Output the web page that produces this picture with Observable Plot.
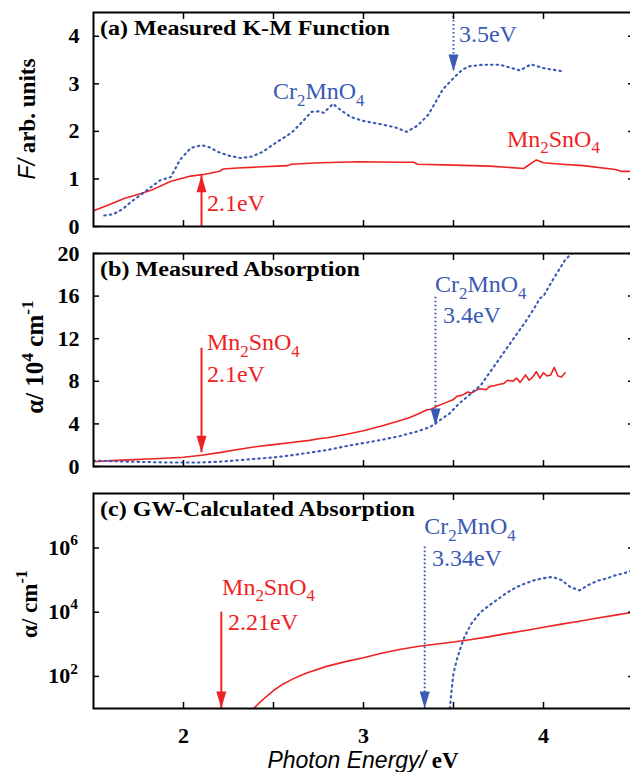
<!DOCTYPE html>
<html><head><meta charset="utf-8">
<script src="https://cdn.jsdelivr.net/npm/d3@7"></script>
<script src="https://cdn.jsdelivr.net/npm/@observablehq/plot@0.6"></script>
<style>
html,body{margin:0;padding:0;background:#fff;overflow:hidden;}
#chart svg{display:block;}
</style></head><body><div id="chart"></div>
<script>
const RED = "#ee2222", BLUE = "#3a5ab4";
const SERIF = "'Liberation Serif','Times New Roman',serif";
const SANS = "'Liberation Sans',Arial,sans-serif";

// ---- (a) Measured K-M function ----
const kmMnE = [1.5,1.6,1.67,1.75,1.82,1.93,2.04,2.12,2.2,2.22,2.3,2.41,2.58,2.6,2.76,2.98,3.2,3.28,3.3,3.5,3.7,3.89,3.96,4.0,4.1,4.22,4.4,4.43,4.5];
const kmMnF = [0.33,0.48,0.59,0.68,0.76,0.95,1.06,1.10,1.16,1.21,1.23,1.25,1.28,1.31,1.34,1.36,1.35,1.35,1.31,1.29,1.27,1.22,1.40,1.34,1.31,1.28,1.20,1.16,1.16];
const kmCrE = [1.56,1.61,1.66,1.7,1.76,1.82,1.87,1.93,1.98,2.04,2.1,2.15,2.19,2.25,2.32,2.38,2.44,2.52,2.6,2.66,2.71,2.75,2.78,2.83,2.88,2.93,3.0,3.11,3.18,3.24,3.3,3.36,3.44,3.5,3.55,3.59,3.66,3.76,3.87,3.93,4.0,4.11];
const kmCrF = [0.23,0.26,0.36,0.49,0.66,0.83,0.97,1.04,1.40,1.65,1.71,1.66,1.57,1.49,1.44,1.47,1.57,1.78,1.97,2.2,2.41,2.42,2.39,2.58,2.43,2.30,2.22,2.14,2.08,1.99,2.12,2.35,2.88,3.12,3.30,3.37,3.40,3.40,3.28,3.41,3.33,3.26];

// ---- (b) Measured absorption (10^4 cm^-1) ----
const abMnE = [1.5,1.6,1.7,1.8,1.9,2.0,2.1,2.2,2.3,2.4,2.5,2.6,2.7,2.75,2.8,2.9,3.0,3.1,3.2,3.25,3.3,3.35,3.38,3.4,3.45,3.5,3.52,3.55,3.58,3.6,3.63,3.65,3.68,3.7,3.73,3.75,3.78,3.8,3.83,3.85,3.87,3.9,3.92,3.94,3.96,3.98,4.0,4.02,4.04,4.06,4.08,4.1,4.12];
const abMnA = [0.45,0.55,0.62,0.7,0.78,0.87,1.05,1.3,1.6,1.85,2.05,2.25,2.45,2.6,2.7,3.0,3.35,3.8,4.3,4.55,4.9,5.3,5.4,5.6,5.95,6.3,6.6,6.7,7.0,6.9,7.2,7.3,7.2,7.5,7.6,7.7,7.8,8.1,8.0,8.3,7.9,8.6,8.1,8.4,8.9,8.3,8.8,8.5,8.6,9.3,8.5,8.4,8.8];
const abCrE = [1.5,1.6,1.7,1.8,1.9,2.0,2.1,2.2,2.3,2.4,2.5,2.6,2.7,2.8,2.9,3.0,3.1,3.2,3.3,3.37,3.42,3.48,3.53,3.58,3.62,3.65,3.7,3.75,3.8,3.85,3.9,3.95,3.98,4.0,4.04,4.08,4.12,4.15,4.2];
const abCrA = [0.55,0.5,0.45,0.42,0.38,0.38,0.38,0.45,0.58,0.72,0.85,1.05,1.3,1.55,1.9,2.2,2.5,2.85,3.3,3.7,4.3,5.0,5.9,6.6,7.2,7.6,8.8,10.0,11.2,12.4,13.6,14.9,15.8,16.0,17.2,18.3,19.4,19.9,20.5];

// ---- (c) GW-calculated absorption, log10(alpha / cm^-1) ----
const gwMnE = [2.39,2.42,2.45,2.5,2.55,2.6,2.65,2.7,2.8,2.9,3.0,3.1,3.2,3.3,3.4,3.5,3.6,3.7,3.8,3.9,4.0,4.1,4.2,4.3,4.4,4.5];
const gwMnLog = [1.0,1.17,1.32,1.56,1.75,1.9,2.03,2.14,2.32,2.46,2.58,2.72,2.84,2.93,3.0,3.07,3.15,3.24,3.34,3.43,3.53,3.63,3.72,3.82,3.91,4.0];
const gwCrE = [3.48,3.49,3.5,3.52,3.54,3.56,3.6,3.65,3.7,3.75,3.8,3.85,3.9,3.95,4.0,4.05,4.1,4.15,4.2,4.25,4.3,4.35,4.4,4.45,4.5];
const gwCrLog = [1.0,1.6,2.1,2.55,2.9,3.22,3.65,4.0,4.22,4.42,4.62,4.78,4.9,5.0,5.06,5.1,5.0,4.78,4.68,4.85,4.98,5.05,5.15,5.22,5.32];

// tick values
const xTicks = [2,2.5,3,3.5,4];
const xTickLabels = [2,3,4];
const yTicksA = [0,1,2,3,4];
const yTicksB = [0,4,8,12,16,20];
const yTicksC = [1e2,1e4,1e6];
const yTickLabelsC = ["10^2","10^4","10^6"];

const zip = (e, v, f = d => d) => e.map((x, i) => ({e: x, v: f(v[i])}));

function richText(sel, x, y, segs, o) {
  const size = o.size;
  const t = sel.append("text").attr("x", x).attr("y", y)
    .attr("fill", o.fill || "black").attr("font-family", o.family || SERIF)
    .attr("font-size", size).attr("font-weight", o.weight || "normal")
    .attr("text-anchor", o.anchor || "start");
  if (o.rotate) t.attr("transform", `rotate(${o.rotate},${x},${y})`);
  if (o.textLength) t.attr("textLength", o.textLength).attr("lengthAdjust", "spacingAndGlyphs");
  if (typeof segs === "string") segs = [[segs, {}]];
  let shift = 0;
  const re = /([_^])(\{[^}]*\}|.)/g;
  for (const [str, st] of segs) {
    const push = (txt, kind) => {
      const ts = t.append("tspan").text(txt);
      const target = kind === "_" ? size * 0.28 : kind === "^" ? -size * 0.42 : 0;
      if (target !== shift) { ts.attr("dy", target - shift); shift = target; }
      if (kind) ts.attr("font-size", size * 0.7);
      if (st.family) ts.attr("font-family", st.family);
      if (st.style) ts.attr("font-style", st.style);
      if (st.weight) ts.attr("font-weight", st.weight);
    };
    let last = 0, m;
    re.lastIndex = 0;
    while ((m = re.exec(str))) {
      if (m.index > last) push(str.slice(last, m.index), null);
      push(m[2].replace(/[{}]/g, ""), m[1]);
      last = re.lastIndex;
    }
    if (last < str.length) push(str.slice(last), null);
  }
  return t;
}

function tickAxes(yTicks) {
  const common = {tickFormat: () => "", strokeWidth: 1.5, label: null};
  return [
    Plot.axisY({...common, ticks: yTicks, anchor: "left", tickSize: -6}),
    Plot.axisY({...common, ticks: yTicks, anchor: "right", tickSize: -6}),
    Plot.axisX({...common, ticks: xTicks, anchor: "bottom", tickSize: -6}),
    Plot.axisX({...common, ticks: xTicks, anchor: "top", tickSize: -6})
  ];
}

function arrowMarks(arrows) {
  const solid = arrows.filter(d => !d.dotted), dotted = arrows.filter(d => d.dotted);
  return [
    Plot.ruleX(solid, {x: "x", y1: "from", y2: "to", stroke: "color", strokeWidth: 2}),
    Plot.ruleX(dotted, {x: "x", y1: "from", y2: "to", stroke: "color", strokeWidth: 2, strokeDasharray: "1.6,2.4"}),
    Plot.vector(arrows, {x: "x", y: "to", length: 17, r: 5, shape: "spike", anchor: "end",
      rotate: d => (d.to > d.from ? 0 : 180), fill: "color", stroke: "none"})
  ];
}

function panel({height, marginTop, marginBottom, y, marks}) {
  return Plot.plot({
    width: 630, height, marginLeft: 93, marginRight: -3, marginTop, marginBottom,
    x: {domain: [1.5, 4.5]}, y,
    color: {type: "identity"},
    style: {fontFamily: SERIF, fontSize: "22px", color: "black", background: "white", overflow: "visible"},
    marks
  });
}

function seriesMarks(mn, cr) {
  return [
    Plot.line(mn, {x: "e", y: "v", stroke: RED, strokeWidth: 1.6, clip: true}),
    Plot.line(cr, {x: "e", y: "v", stroke: BLUE, strokeWidth: 2.1, strokeDasharray: "1.5,4", clip: true})
  ];
}

const yLabelAxis = ticks => Plot.axisY({ticks, anchor: "left", tickSize: 0, tickPadding: 14,
  tickFormat: d => String(d), fontSize: 22, fontWeight: "bold", label: null});

// annotations (data coordinates)
const arrowsA = [{x: 2.1, from: 0, to: 1.08, color: RED, dotted: false}, {x: 3.5, from: 4.5, to: 3.26, color: BLUE, dotted: true}];
const arrowsB = [{x: 2.1, from: 11.1, to: 1.3, color: RED, dotted: false}, {x: 3.4, from: 15.9, to: 3.85, color: BLUE, dotted: true}];
const arrowsC = [{x: 2.21, from: 1e4, to: 10, color: RED, dotted: false}, {x: 3.34, from: 1.07e6, to: 10, color: BLUE, dotted: true}];
const labelsA = [{x: 2.5, y: 2.67, t: "Cr_2MnO_4", c: BLUE}, {x: 3.533, y: 3.87, t: "3.5eV", c: BLUE},
  {x: 3.8, y: 1.67, t: "Mn_2SnO_4", c: RED}, {x: 2.133, y: 0.32, t: "2.1eV", c: RED}];
const labelsB = [{x: 2.133, y: 10.9, t: "Mn_2SnO_4", c: RED}, {x: 2.133, y: 7.9, t: "2.1eV", c: RED},
  {x: 3.4, y: 16.3, t: "Cr_2MnO_4", c: BLUE}, {x: 3.444, y: 13.4, t: "3.4eV", c: BLUE}];
const labelsC = [{x: 2.217, y: 33900, t: "Mn_2SnO_4", c: RED}, {x: 2.25, y: 2750, t: "2.21eV", c: RED},
  {x: 3.34, y: 2.6e6, t: "Cr_2MnO_4", c: BLUE}, {x: 3.383, y: 2.75e5, t: "3.34eV", c: BLUE}];

const chart = document.getElementById("chart");

// Panel A
const svgA = panel({height: 240, marginTop: 12, marginBottom: 14, y: {domain: [0, 4.5]},
  marks: [...seriesMarks(zip(kmMnE, kmMnF), zip(kmCrE, kmCrF)), ...arrowMarks(arrowsA),
    ...tickAxes(yTicksA), yLabelAxis(yTicksA), Plot.frame({stroke: "black", strokeWidth: 2})]});
// Panel B
const svgB = panel({height: 240, marginTop: 13, marginBottom: 14, y: {domain: [0, 20]},
  marks: [...seriesMarks(zip(abMnE, abMnA), zip(abCrE, abCrA)), ...arrowMarks(arrowsB),
    ...tickAxes(yTicksB), yLabelAxis(yTicksB), Plot.frame({stroke: "black", strokeWidth: 2})]});
// Panel C
const pow = d => Math.pow(10, d);
const svgC = panel({height: 292, marginTop: 13, marginBottom: 64, y: {type: "log", domain: [10, 5e7]},
  marks: [...seriesMarks(zip(gwMnE, gwMnLog, pow), zip(gwCrE, gwCrLog, pow)), ...arrowMarks(arrowsC),
    ...tickAxes(yTicksC),
    Plot.axisX({ticks: xTickLabels, anchor: "bottom", tickSize: 0, tickPadding: 19, tickFormat: d => String(d),
      fontSize: 22, fontWeight: "bold", label: null}),
    Plot.frame({stroke: "black", strokeWidth: 2})]});

chart.append(svgA, svgB, svgC);

function annotate(svg, labels, title, titleLen, yLabel, yLabelX, yLabelY, yLabelSize) {
  const sx = svg.scale("x"), sy = svg.scale("y");
  const g = d3.select(svg).append("g");
  for (const l of labels) richText(g, sx.apply(l.x), sy.apply(l.y), l.t, {size: 24, fill: l.c});
  richText(g, 100, Math.min(...sy.range) + 23, title, {size: 20, weight: "bold", textLength: titleLen});
  richText(g, yLabelX, yLabelY, yLabel, {size: yLabelSize, weight: "bold", anchor: "middle", rotate: -90});
  return g;
}
annotate(svgA, labelsA, "(a) Measured K-M Function", 290,
  [["F/", {family: SANS, style: "italic", weight: "normal"}], [" arb. units", {}]], 35, 119, 23);
annotate(svgB, labelsB, "(b) Measured Absorption", 260, [["α/ 10^4 cm^{-1}", {}]], 43, 117, 25);
const gC = annotate(svgC, labelsC, "(c) GW-Calculated Absorption", 315, [["α/ cm^{-1}", {}]], 37, 124, 23);
{
  const sy = svgC.scale("y");
  yTicksC.forEach((v, i) => richText(gC, 78, sy.apply(v) + 7, yTickLabelsC[i], {size: 22, weight: "bold", anchor: "end"}));
  richText(gC, 363, 288, [["Photon Energy/", {family: SANS, style: "italic", weight: "normal"}], [" eV", {weight: "bold"}]],
    {size: 23, anchor: "middle"});
}
</script></body></html>
